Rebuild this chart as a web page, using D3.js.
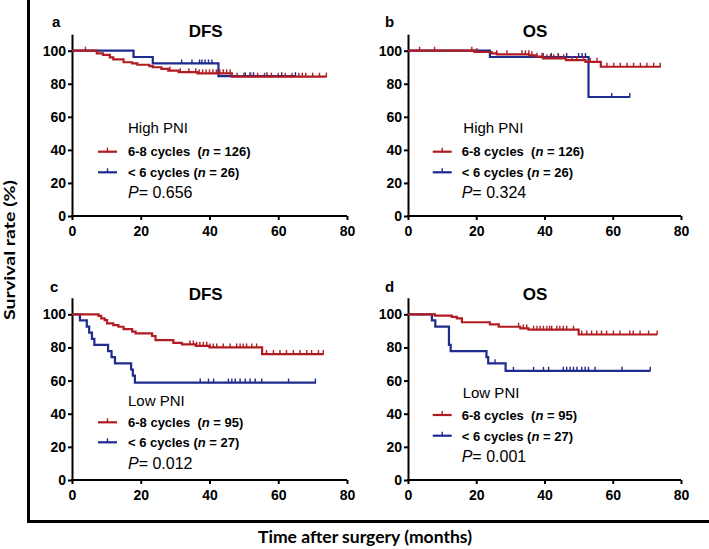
<!DOCTYPE html>
<html>
<head>
<meta charset="utf-8">
<script src="https://cdn.jsdelivr.net/npm/d3@7"></script>
<style>
  html, body { margin: 0; padding: 0; background: #fff; }
  svg { display: block; }
</style>
</head>
<body>
<svg id="chart" width="709" height="549"></svg>
<script>
// ---------------- DATA ----------------
const xTicks = [0, 20, 40, 60, 80];
const yTicks = [0, 20, 40, 60, 80, 100];

const panelLetters = ["a", "b", "c", "d"];
const panelTitles = ["DFS", "OS", "DFS", "OS"];
const groupLabels = ["High PNI", "High PNI", "Low PNI", "Low PNI"];
const redN = [126, 126, 95, 95];
const blueN = [26, 26, 27, 27];
const pValues = ["0.656", "0.324", "0.012", "0.001"];

// Panel a: DFS, High PNI
const aRedT = [0, 7.2, 9, 11, 12, 15, 17.5, 19, 22.5, 23.5, 26, 28, 31, 36.5, 46.5];
const aRedS = [100, 98.4, 97.5, 96, 94.7, 93, 92.3, 91.5, 90.7, 90, 89, 88, 87, 86.3, 84.3];
const aRedEnd = 74;
const aRedCens = [3.9, 28.5, 31.5, 34, 36, 37, 38, 39, 40, 41, 42, 43, 44, 45, 46, 48, 50, 52, 54, 56, 58, 60, 62, 64, 66, 67, 68, 70, 72, 74];
const aBlueT = [0, 17.9, 23.5, 42.6];
const aBlueS = [100, 96.2, 92.3, 84.6];
const aBlueEnd = 65;
const aBlueCens = [31.9, 34.9, 37.1, 37.8, 38.7, 39.7, 40.7, 50.4, 51.8, 52.8, 56.7, 61, 65];

// Panel b: OS, High PNI
const bRedT = [0, 19.5, 24.5, 26, 35.5, 37.5, 39.5, 46.3, 52, 56.5];
const bRedS = [100, 99.2, 98.4, 97.8, 97.2, 96.4, 95.4, 94.3, 93.3, 90.3];
const bRedEnd = 74;
const bRedCens = [3.4, 7.8, 18.7, 20.2, 26, 29, 33.4, 34.4, 35.4, 36.3, 37.8, 39.3, 40.7, 41.7, 42.7, 44.1, 45.6, 48, 49.5, 51.5, 53.4, 55.4, 58.3, 60.3, 62.2, 64.2, 66.1, 68.1, 70, 72, 73.9];
const bBlueT = [0, 24, 52.9];
const bBlueS = [100, 96.2, 72];
const bBlueEnd = 65;
const bBlueCens = [39.6, 42, 44, 46.5, 50, 51, 52, 59.7, 65];

// Panel c: DFS, Low PNI
const cRedT = [0, 7.7, 8.5, 9.5, 10.2, 12, 13.5, 15, 17.5, 18.5, 23.3, 24.3, 29.5, 32, 36, 40, 55.3];
const cRedS = [100, 99, 97.6, 96.5, 94.5, 93.5, 92.5, 91, 89.5, 88.5, 86.9, 84.4, 82.8, 81.8, 81, 80, 76];
const cRedEnd = 73.2;
const cRedCens = [34.3, 35.3, 36.3, 37.2, 38.2, 39.2, 40.1, 41.1, 42.1, 44, 46, 47.9, 48.9, 49.8, 50.8, 52.3, 53.7, 56.6, 58.6, 60.5, 62.4, 64.4, 66.3, 68.3, 69.7, 71.7, 73.1];
const cBlueT = [0, 2.3, 4.3, 5.0, 5.8, 6.5, 10.5, 11.5, 12.5, 17.2, 17.7, 18.3];
const cBlueS = [100, 96.3, 92.6, 88.9, 85.2, 81.5, 77.8, 74.1, 70.4, 66.7, 63.0, 58.8];
const cBlueEnd = 71;
const cBlueCens = [37.3, 39.7, 41.2, 45.5, 46.5, 47.5, 48.9, 50.4, 51.8, 53.3, 55.2, 63, 70.8];

// Panel d: OS, Low PNI
const dRedT = [0, 7.9, 12.8, 14.3, 15.8, 24, 26.6, 32.9, 35.3, 50];
const dRedS = [100, 99.2, 98.5, 97.6, 95.2, 93.9, 92.5, 91.5, 90.7, 87.8];
const dRedEnd = 73;
const dRedCens = [32.4, 33.8, 34.8, 36.8, 37.8, 38.7, 39.7, 40.7, 41.5, 42.1, 43.6, 44.5, 45.5, 46.5, 48.5, 50.9, 52.4, 53.8, 55.3, 56.7, 58.2, 60.2, 62.1, 65, 66, 68, 70.5, 73];
const dBlueT = [0, 7, 8, 12, 12.5, 23, 23.5, 28.6];
const dBlueS = [100, 96.3, 92.6, 81.5, 77.8, 74.1, 70.4, 65.9];
const dBlueEnd = 71;
const dBlueCens = [25.5, 30.9, 36.8, 39.7, 41.2, 45.5, 46.5, 47.5, 48.5, 49.5, 50.9, 51.9, 52.9, 54.8, 62.7, 71];

// ---------------- LAYOUT / STYLE ----------------
const RED = "#b01c22";
const BLUE = "#1f2a8e";
const FONT = "'Liberation Sans', Arial, sans-serif";
const TITLE_FONT = "Lato, 'Open Sans', sans-serif";

const panels = [
  { x0: 72, x1: 347, y0: 216, y100: 50.7, red: [aRedT, aRedS, aRedEnd, aRedCens], blue: [aBlueT, aBlueS, aBlueEnd, aBlueCens],
    letter: [52, 27.3], title: [205.7, 36.7], group: [128, 133], leg: { lx0: 98, lx1: 117, tx: 128, r: [151.7, 156], b: [172.3, 177], p: 198 } },
  { x0: 408, x1: 681, y0: 216, y100: 50.7, red: [bRedT, bRedS, bRedEnd, bRedCens], blue: [bBlueT, bBlueS, bBlueEnd, bBlueCens],
    letter: [385, 27.3], title: [535, 36.7], group: [463.3, 133], leg: { lx0: 432.7, lx1: 451.7, tx: 461.7, r: [151.7, 156], b: [172.3, 177], p: 198 } },
  { x0: 72, x1: 347, y0: 480, y100: 314.3, red: [cRedT, cRedS, cRedEnd, cRedCens], blue: [cBlueT, cBlueS, cBlueEnd, cBlueCens],
    letter: [50, 292.3], title: [205.7, 300], group: [128, 405.7], leg: { lx0: 98, lx1: 117, tx: 128, r: [422.3, 426.5], b: [442.3, 447], p: 469 } },
  { x0: 408, x1: 681, y0: 480, y100: 314.3, red: [dRedT, dRedS, dRedEnd, dRedCens], blue: [dBlueT, dBlueS, dBlueEnd, dBlueCens],
    letter: [385, 292.3], title: [535, 300], group: [462.7, 398.3], leg: { lx0: 432.7, lx1: 451.7, tx: 461.7, r: [415, 420], b: [435.7, 440.7], p: 462.3 } }
];

const svg = d3.select("#chart");

// Frame
svg.append("path")
  .attr("d", "M28.5,0 L28.5,521.5 L709,521.5")
  .attr("fill", "none").attr("stroke", "#000").attr("stroke-width", 3);

// Axis titles
svg.append("text")
  .attr("x", 365).attr("y", 543)
  .attr("text-anchor", "middle")
  .attr("font-family", TITLE_FONT).attr("font-weight", "bold").attr("font-size", 17)
  .attr("textLength", 214).attr("lengthAdjust", "spacingAndGlyphs")
  .text("Time after surgery (months)");

svg.append("text")
  .attr("transform", "translate(15,250) rotate(-90)")
  .attr("text-anchor", "middle")
  .attr("font-family", TITLE_FONT).attr("font-weight", "bold").attr("font-size", 16)
  .attr("textLength", 140).attr("lengthAdjust", "spacingAndGlyphs")
  .text("Survival rate (%)");

function stepValue(T, S, t) {
  let v = S[0];
  for (let i = 0; i < T.length; i++) if (T[i] <= t) v = S[i];
  return v;
}

panels.forEach((p, i) => {
  const x = d3.scaleLinear().domain([0, 80]).range([p.x0, p.x1]);
  const ySlope = (p.y0 - p.y100) / 100;
  const y = d3.scaleLinear().domain([0, 110]).range([p.y0, p.y0 - 110 * ySlope]);
  const g = svg.append("g");

  // axes
  const xAxis = d3.axisBottom(x).tickValues(xTicks).tickSize(4).tickPadding(6).tickSizeOuter(0);
  const yAxis = d3.axisLeft(y).tickValues(yTicks).tickSize(4).tickPadding(2).tickSizeOuter(0);
  const gx = g.append("g").attr("transform", `translate(0,${p.y0})`).call(xAxis);
  const gy = g.append("g").attr("transform", `translate(${p.x0},0)`).call(yAxis);
  [gx, gy].forEach(a => {
    a.select(".domain").attr("stroke", "#000").attr("stroke-width", 2);
    a.selectAll(".tick line").attr("stroke", "#000").attr("stroke-width", 2);
    a.selectAll(".tick text").attr("fill", "#000")
      .attr("font-family", FONT).attr("font-weight", "bold").attr("font-size", 14);
  });
  // extend x domain line slightly left to join y axis
  gx.select(".domain").attr("d", `M${p.x0 - 1},0H${p.x1}`);

  const line = d3.line().x(d => x(d[0])).y(d => y(d[1])).curve(d3.curveStepAfter);

  function drawCurve(spec, color) {
    const [T, S, end, C] = spec;
    const pts = T.map((t, k) => [t, S[k]]);
    pts.push([end, S[S.length - 1]]);
    g.append("path").datum(pts)
      .attr("d", line).attr("fill", "none")
      .attr("stroke", color).attr("stroke-width", 2.2);
    g.append("g").selectAll("line").data(C).join("line")
      .attr("x1", d => x(d)).attr("x2", d => x(d))
      .attr("y1", d => y(stepValue(T, S, d)) - 4)
      .attr("y2", d => y(stepValue(T, S, d)) + 0.5)
      .attr("stroke", color).attr("stroke-width", 1.4);
  }
  drawCurve(p.blue, BLUE);
  drawCurve(p.red, RED);

  // labels
  svg.append("text").attr("x", p.letter[0]).attr("y", p.letter[1])
    .attr("font-family", FONT).attr("font-weight", "bold").attr("font-size", 15)
    .text(panelLetters[i]);
  svg.append("text").attr("x", p.title[0]).attr("y", p.title[1])
    .attr("text-anchor", "middle")
    .attr("font-family", FONT).attr("font-weight", "bold").attr("font-size", 17)
    .text(panelTitles[i]);
  svg.append("text").attr("x", p.group[0]).attr("y", p.group[1])
    .attr("font-family", FONT).attr("font-size", 15)
    .text(groupLabels[i]);

  // legend
  const L = p.leg;
  [[RED, L.r, "6-8 cycles  (", redN[i]], [BLUE, L.b, "< 6 cycles (", blueN[i]]].forEach(([col, yy, lab, n]) => {
    svg.append("line").attr("x1", L.lx0).attr("x2", L.lx1).attr("y1", yy[0]).attr("y2", yy[0])
      .attr("stroke", col).attr("stroke-width", 2.2);
    const mid = (L.lx0 + L.lx1) / 2;
    svg.append("line").attr("x1", mid).attr("x2", mid).attr("y1", yy[0] - 4).attr("y2", yy[0] + 0.5)
      .attr("stroke", col).attr("stroke-width", 1.4);
    const t = svg.append("text").attr("x", L.tx).attr("y", yy[1])
      .attr("font-family", FONT).attr("font-weight", "bold").attr("font-size", 13)
      .attr("xml:space", "preserve").style("white-space", "pre");
    t.append("tspan").text(lab);
    t.append("tspan").attr("font-style", "italic").text("n");
    t.append("tspan").text(" = " + n + ")");
  });
  const pt = svg.append("text").attr("x", L.tx).attr("y", L.p)
    .attr("font-family", FONT).attr("font-size", 16);
  pt.append("tspan").attr("font-style", "italic").text("P");
  pt.append("tspan").text("= " + pValues[i]);
});
</script>
</body>
</html>
